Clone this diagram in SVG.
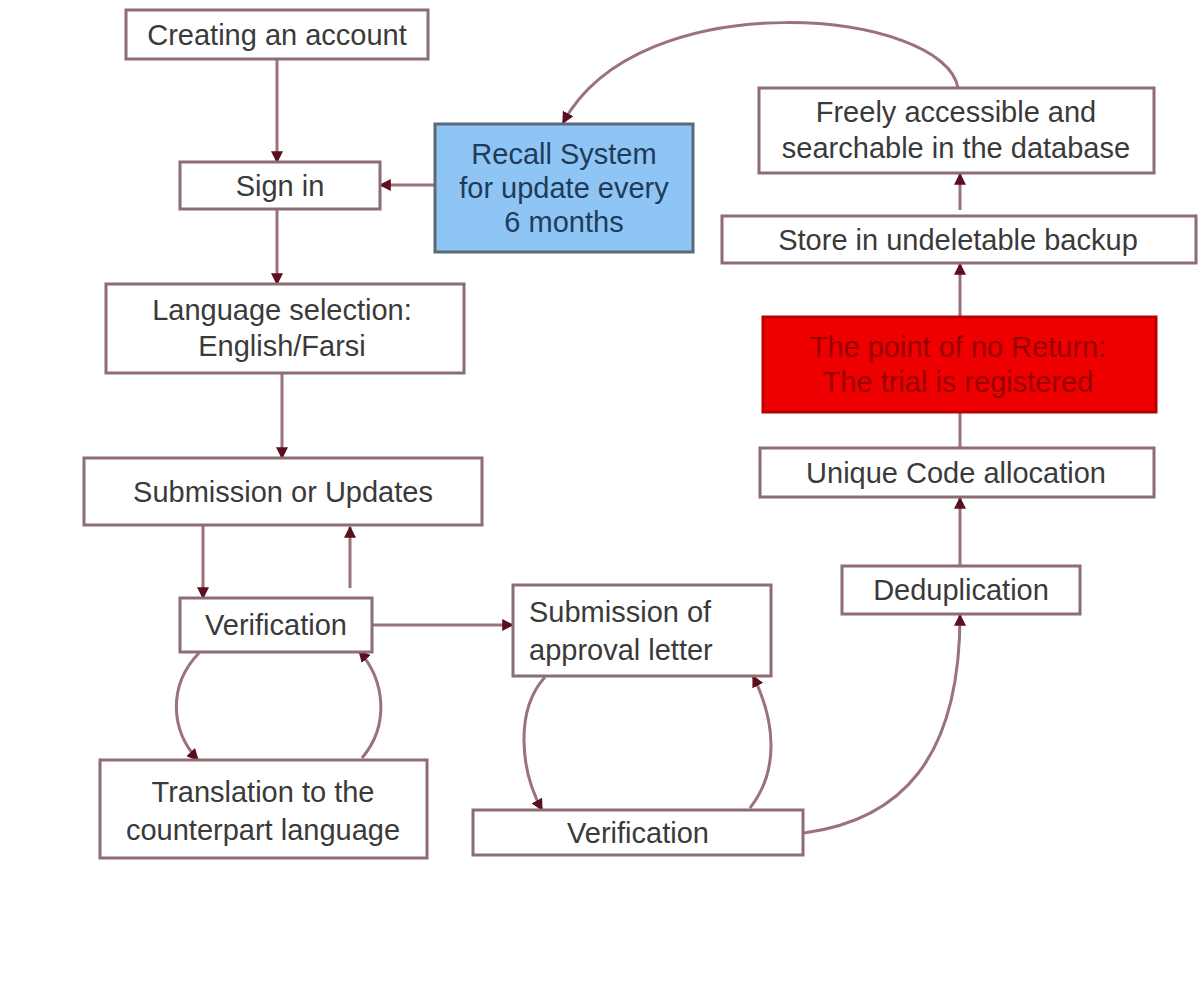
<svg xmlns="http://www.w3.org/2000/svg" width="1200" height="981" viewBox="0 0 1200 981">
<defs>
<marker id="ah" viewBox="0 0 10 10" refX="9" refY="5" markerWidth="4" markerHeight="4" orient="auto" markerUnits="strokeWidth">
<path d="M0,0 L10,5 L0,10 z" fill="#5a0f1e"/>
</marker>
<style>
.box{fill:#ffffff;stroke:#8c6d72;stroke-width:3}
.t{font-family:"Liberation Sans",Arial,sans-serif;font-size:29px;fill:#3a3a3a;text-anchor:middle}
.c{fill:none;stroke:#9a7378;stroke-width:3;marker-end:url(#ah)}
.cn{fill:none;stroke:#9a7378;stroke-width:3}
</style>
</defs>
<rect width="1200" height="981" fill="#ffffff"/>
<g id="connectors">
<path class="c" d="M277,59 L277,162"/>
<path class="c" d="M277,209 L277,284"/>
<path class="c" d="M435,185 L380,185"/>
<path class="c" d="M282,373 L282,458"/>
<path class="c" d="M203,525 L203,598"/>
<path class="c" d="M350,588 L350,527"/>
<path class="c" d="M372,625 L513,625"/>
<path class="c" d="M199,653 C168,685 170,730 198,760"/>
<path class="c" d="M362,758 C390,725 385,680 359,651"/>
<path class="c" d="M545,677 C515,710 520,770 542,810"/>
<path class="c" d="M750,808 C780,770 775,720 753,676"/>
<path class="c" d="M804,833 C900,820 960,760 960,615"/>
<path class="c" d="M960,566 L960,498"/>
<path class="cn" d="M960,448 L960,412"/>
<path class="c" d="M960,317 L960,264"/>
<path class="c" d="M960,210 L960,174"/>
<path class="c" d="M958,88 C945,10 640,-20 563,123"/>
</g>
<g id="n-create">
<rect class="box" x="126" y="10" width="302" height="49"/>
<text class="t" x="277" y="45">Creating an account</text>
</g>
<g id="n-signin">
<rect class="box" x="180" y="162" width="200" height="47"/>
<text class="t" x="280" y="196">Sign in</text>
</g>
<g id="n-recall">
<rect x="435" y="124" width="258" height="128" fill="#8ec5f4" stroke="#5b6878" stroke-width="3"/>
<text class="t" x="564" y="164" style="fill:#1e3c5a">Recall System</text>
<text class="t" x="564" y="198" style="fill:#1e3c5a">for update every</text>
<text class="t" x="564" y="232" style="fill:#1e3c5a">6 months</text>
</g>
<g id="n-lang">
<rect class="box" x="106" y="284" width="358" height="89"/>
<text class="t" x="282" y="320">Language selection:</text>
<text class="t" x="282" y="356">English/Farsi</text>
</g>
<g id="n-submit">
<rect class="box" x="84" y="458" width="398" height="67"/>
<text class="t" x="283" y="502">Submission or Updates</text>
</g>
<g id="n-verif1">
<rect class="box" x="180" y="598" width="192" height="54"/>
<text class="t" x="276" y="635">Verification</text>
</g>
<g id="n-trans">
<rect class="box" x="100" y="760" width="327" height="98"/>
<text class="t" x="263" y="802">Translation to the</text>
<text class="t" x="263" y="840">counterpart language</text>
</g>
<g id="n-approval">
<rect class="box" x="513" y="585" width="258" height="91"/>
<text class="t" x="529" y="622" style="text-anchor:start">Submission of</text>
<text class="t" x="529" y="660" style="text-anchor:start">approval letter</text>
</g>
<g id="n-verif2">
<rect class="box" x="473" y="810" width="330" height="45"/>
<text class="t" x="638" y="843">Verification</text>
</g>
<g id="n-dedup">
<rect class="box" x="842" y="566" width="238" height="48"/>
<text class="t" x="961" y="600">Deduplication</text>
</g>
<g id="n-unique">
<rect class="box" x="760" y="448" width="394" height="49"/>
<text class="t" x="956" y="483">Unique Code allocation</text>
</g>
<g id="n-return">
<rect x="763" y="317" width="393" height="95" fill="#ee0000" stroke="#b80000" stroke-width="3"/>
<text class="t" x="958" y="357" style="fill:#9a0000">The point of no Return:</text>
<text class="t" x="958" y="392" style="fill:#9a0000">The trial is registered</text>
</g>
<g id="n-store">
<rect class="box" x="722" y="216" width="474" height="47"/>
<text class="t" x="958" y="250">Store in undeletable backup</text>
</g>
<g id="n-free">
<rect class="box" x="759" y="88" width="395" height="85"/>
<text class="t" x="956" y="122">Freely accessible and</text>
<text class="t" x="956" y="158">searchable in the database</text>
</g>
</svg>
